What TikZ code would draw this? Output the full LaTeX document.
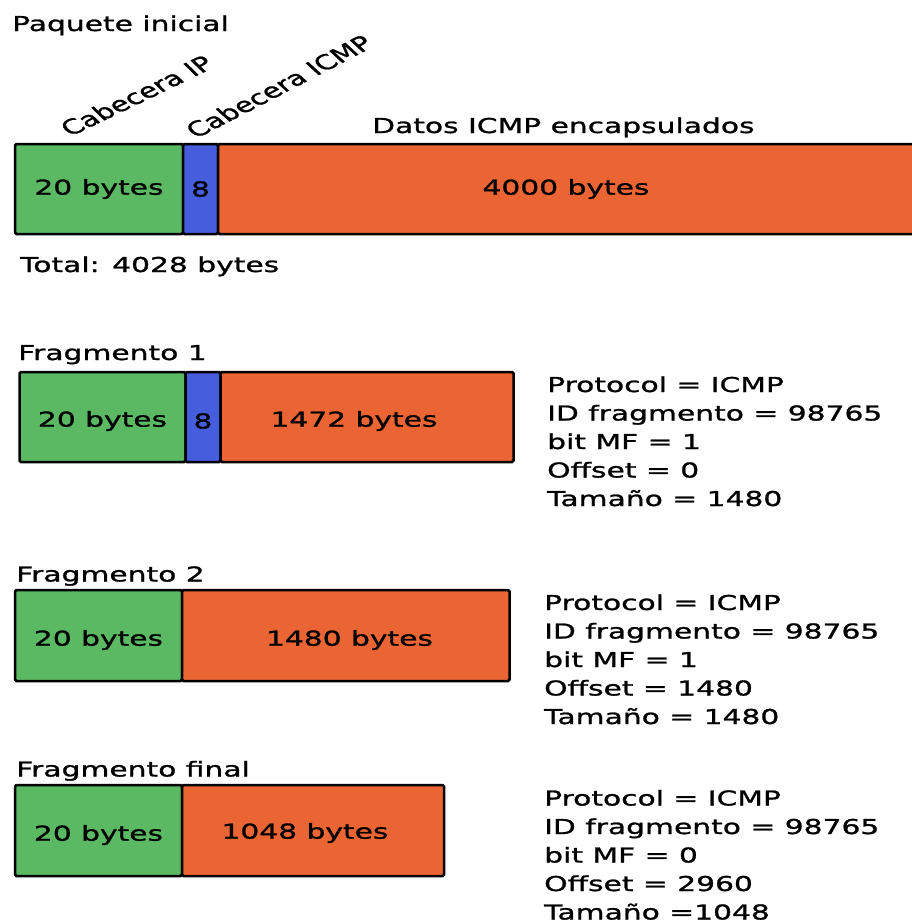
\documentclass[tikz,border=0pt]{standalone}
\usepackage{fontspec}
\setmainfont{DejaVu Sans}[FakeStretch=1.45,FakeBold=1.2]
\newfontfamily\plainfont{DejaVu Sans}[FakeBold=1.0]
\definecolor{ipgreen}{HTML}{5BB963}
\definecolor{icmpblue}{HTML}{465DDD}
\definecolor{dataorange}{HTML}{EB6534}
\begin{document}
\begin{tikzpicture}[x=1pt,y=-1pt,
  cell/.style={draw=black,line width=2.5pt,rounded corners=1.5pt},
  txt/.style={anchor=base west,inner sep=0pt,font=\fontsize{20.5}{24}\selectfont},
  celltxt/.style={inner sep=0pt,font=\fontsize{20.5}{24}\selectfont},
  rotlbl/.style={anchor=base west,inner sep=0pt,font=\plainfont\fontsize{20.5}{24}\selectfont,transform shape}]
\useasboundingbox (0,0) rectangle (912,924);
\begin{scope}
\clip (0,0) rectangle (912,924);

% initial packet
\node[txt] (ptitle) at (12,31) {Paquete inicial};
\begin{scope}[xscale=1.45]
  \node[rotlbl,rotate=35] (lblip) at (48.3,137) {Cabecera IP};
  \node[rotlbl,rotate=37] (lblicmp) at (135.2,139) {Cabecera ICMP};
\end{scope}
\node[txt] (lbldata) at (372,133) {Datos ICMP encapsulados};
\draw[cell,fill=ipgreen] (15,144) rectangle (183,234);
\draw[cell,fill=icmpblue] (183,144) rectangle (218,234);
\draw[cell,fill=dataorange] (218,144) rectangle (935,234);
\node[celltxt] (p0a) at (99,189) {20 bytes};
\node[celltxt] (p0b) at (200.5,189) {8};
\node[celltxt] (p0c) at (566,189) {4000 bytes};
\node[txt] (ptotal) at (20,272) {Total: 4028 bytes};

% fragment 1
\node[txt] (f1title) at (18,360) {Fragmento 1};
\draw[cell,fill=ipgreen] (19.5,372) rectangle (185.5,462);
\draw[cell,fill=icmpblue] (185.5,372) rectangle (220.5,462);
\draw[cell,fill=dataorange] (220.5,372) rectangle (513.5,462);
\node[celltxt] (f1a) at (102.5,421) {20 bytes};
\node[celltxt] (f1b) at (203,421) {8};
\node[celltxt] (f1c) at (354,421) {1472 bytes};
\node[txt] (f1l1) at (547,392) {Protocol = ICMP};
\node[txt] (f1l2) at (547,420.5) {ID fragmento = 98765};
\node[txt] (f1l3) at (547,449) {bit MF = 1};
\node[txt] (f1l4) at (547,477.5) {Offset = 0};
\node[txt] (f1l5) at (547,506) {Tamaño = 1480};

% fragment 2
\node[txt] (f2title) at (16,581.5) {Fragmento 2};
\draw[cell,fill=ipgreen] (15,590) rectangle (182,681);
\draw[cell,fill=dataorange] (182,590) rectangle (509.5,681);
\node[celltxt] (f2a) at (98.5,640) {20 bytes};
\node[celltxt] (f2b) at (349.5,640) {1480 bytes};
\node[txt] (f2l1) at (544,610) {Protocol = ICMP};
\node[txt] (f2l2) at (544,638.5) {ID fragmento = 98765};
\node[txt] (f2l3) at (544,667) {bit MF = 1};
\node[txt] (f2l4) at (544,695.5) {Offset = 1480};
\node[txt] (f2l5) at (544,724) {Tamaño = 1480};

% final fragment
\node[txt] (f3title) at (16,776.5) {Fragmento final};
\draw[cell,fill=ipgreen] (15,785) rectangle (182,876);
\draw[cell,fill=dataorange] (182,785) rectangle (444,876);
\node[celltxt] (f3a) at (98.5,835) {20 bytes};
\node[celltxt] (f3b) at (305,833) {1048 bytes};
\node[txt] (f3l1) at (544,805.5) {Protocol = ICMP};
\node[txt] (f3l2) at (544,834) {ID fragmento = 98765};
\node[txt] (f3l3) at (544,862.5) {bit MF = 0};
\node[txt] (f3l4) at (544,891) {Offset = 2960};
\node[txt] (f3l5) at (544,919.5) {Tamaño =1048};
\end{scope}
\end{tikzpicture}
\end{document}
